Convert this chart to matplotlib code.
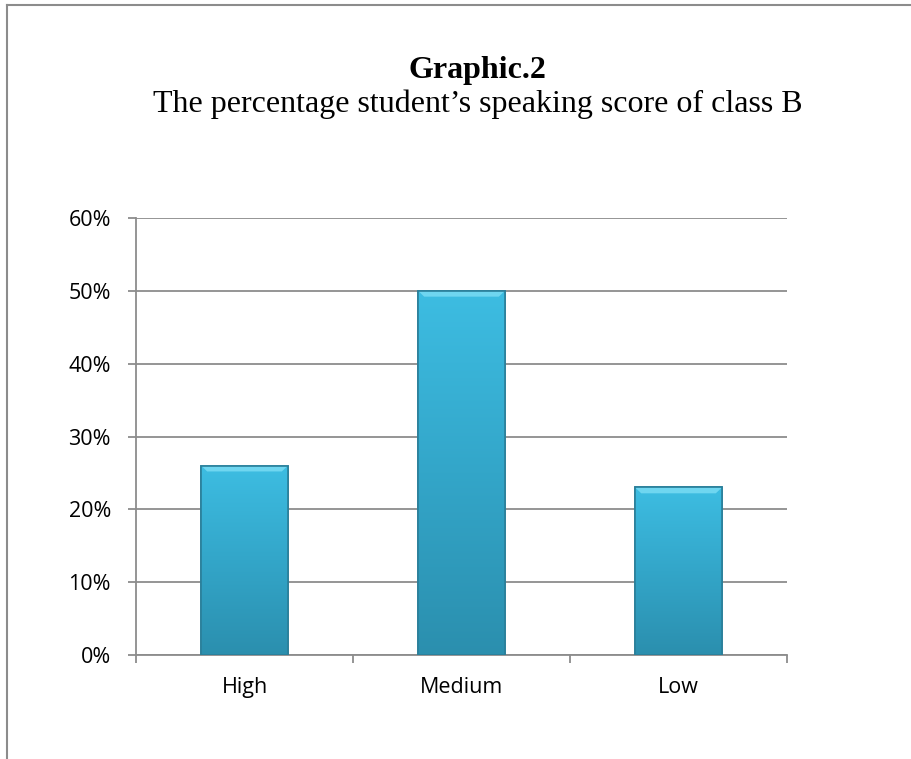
import numpy as np
import matplotlib.pyplot as plt
from matplotlib.colors import LinearSegmentedColormap
from matplotlib.lines import Line2D

categories = ['High', 'Medium', 'Low']
values = [0.26, 0.50, 0.23]
yticks = [0, 0.1, 0.2, 0.3, 0.4, 0.5, 0.6]
ytick_labels = ['0%', '10%', '20%', '30%', '40%', '50%', '60%']

fig = plt.figure(figsize=(9.11, 7.59), dpi=100)

# outer frame (left and top edge of the chart box)
fig.add_artist(Line2D([0.008, 0.008], [0, 0.994], transform=fig.transFigure, color='#8c8c8c', lw=1.5))
fig.add_artist(Line2D([0.008, 1.0], [0.994, 0.994], transform=fig.transFigure, color='#8c8c8c', lw=1.5))

fig.text(0.524, 0.897, 'Graphic.2', ha='center', va='baseline', family='Liberation Serif',
         fontsize=23, fontweight='bold')
fig.text(0.524, 0.853, 'The percentage student\u2019s speaking score of class B', ha='center',
         va='baseline', family='Liberation Serif', fontsize=23)

ax = fig.add_axes([0.1493, 0.137, 0.7146, 0.5758])
x = np.arange(len(categories))
bars = ax.bar(x, values, width=0.4, color='#36acd0', edgecolor='#2a7f9a', linewidth=1.2, zorder=3)

cmap = LinearSegmentedColormap.from_list('bevel', ['#2b8fae', '#33a6c9', '#3dbde2'])
grad = np.linspace(0, 1, 256).reshape(-1, 1)
for b in bars:
    x0, y0, w, h = b.get_x(), b.get_y(), b.get_width(), b.get_height()
    im = ax.imshow(grad, extent=[x0, x0 + w, y0, y0 + h], origin='lower', cmap=cmap,
                   aspect='auto', zorder=3.5)
    im.set_clip_path(b)
    # light bevel at the top
    ax.fill([x0, x0 + w, x0 + w * 0.93, x0 + w * 0.07], [y0 + h, y0 + h, y0 + h - 0.008, y0 + h - 0.008],
            color='#6fd6f0', zorder=4, lw=0)
    ax.bar(x0 + w / 2, h, width=w, fill=False, edgecolor='#2a7f9a', linewidth=1.2, zorder=4.5)

ax.set_xlim(-0.5, 2.5)
ax.set_ylim(0, 0.6)
ax.set_yticks(yticks)
ax.set_yticklabels(ytick_labels)
ax.set_xticks(x)
ax.set_xticklabels(categories)
ax.set_xticks([-0.5, 0.5, 1.5, 2.5], minor=True)
ax.tick_params(axis='x', which='major', length=0, pad=16)
ax.tick_params(axis='x', which='minor', length=6, color='#8c8c8c', width=1.3)
ax.tick_params(axis='y', length=6, color='#8c8c8c', width=1.3, pad=12)
for lab in ax.get_xticklabels() + ax.get_yticklabels():
    lab.set_family('Open Sans')
    lab.set_fontsize(15.5)
ax.grid(axis='y', color='#8c8c8c', lw=1.3, zorder=0)
ax.set_axisbelow(True)
for s in ['top', 'right']:
    ax.spines[s].set_visible(False)
ax.spines['left'].set_color('#8c8c8c')
ax.spines['bottom'].set_color('#8c8c8c')
ax.spines['left'].set_linewidth(1.3)
ax.spines['bottom'].set_linewidth(1.3)

fig.savefig('out.png', dpi=100)
